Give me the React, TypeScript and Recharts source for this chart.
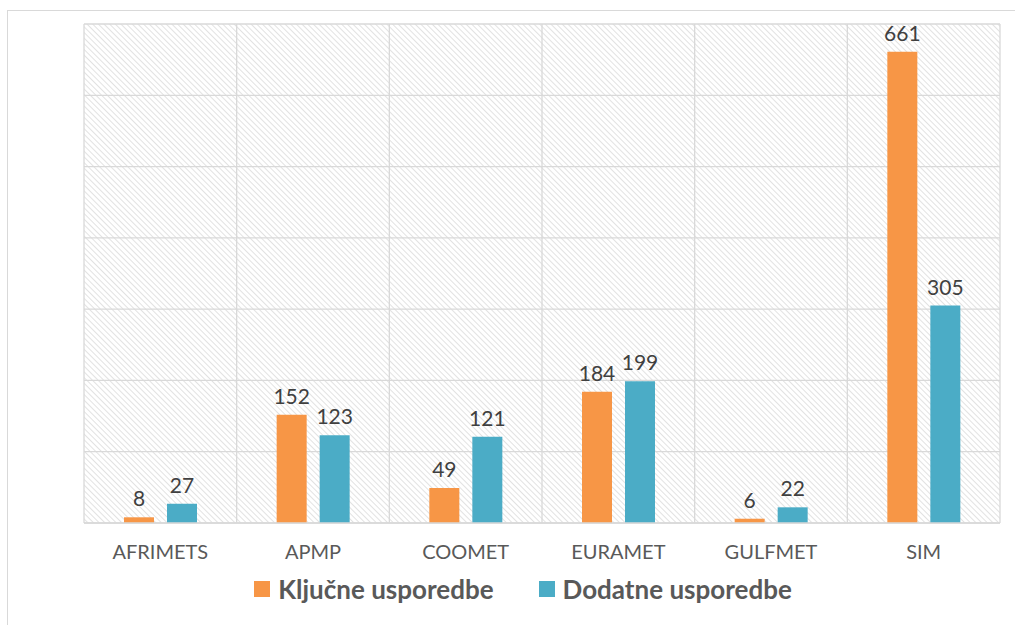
import React from 'react';
import { BarChart, Bar, XAxis, YAxis, CartesianGrid, Legend, LabelList } from 'recharts';

const regions = ['AFRIMETS', 'APMP', 'COOMET', 'EURAMET', 'GULFMET', 'SIM'];
const kljucne = [8, 152, 49, 184, 6, 661];
const dodatne = [27, 123, 121, 199, 22, 305];
const yTicks = [0, 100, 200, 300, 400, 500, 600, 700];

const seriesNames = { kljucne: 'Ključne usporedbe', dodatne: 'Dodatne usporedbe' };
const ORANGE = '#F79646';
const BLUE = '#4BACC6';
const FONT = 'Lato, "Open Sans", sans-serif';

const chartData = regions.map((name, i) => ({
  name,
  kljucne: kljucne[i],
  dodatne: dodatne[i],
}));

// vertical lines sit on category borders, not on centres
const boundaryLines = ({ offset }: any) => {
  const step = offset.width / regions.length;
  return regions.map((_, i) => offset.left + i * step).concat(offset.left + offset.width);
};

const LegendRow = () => (
  <div style={{ display: 'flex', justifyContent: 'center', alignItems: 'center', fontFamily: FONT }}>
    {[
      { label: seriesNames.kljucne, color: ORANGE },
      { label: seriesNames.dodatne, color: BLUE },
    ].map((item, i) => (
      <div key={item.label} style={{ display: 'flex', alignItems: 'center', marginLeft: i ? 45 : 0 }}>
        <span style={{ width: 16, height: 16, background: item.color, display: 'inline-block', marginRight: 8 }} />
        <span style={{ fontSize: 26, fontWeight: 700, color: '#595959' }}>{item.label}</span>
      </div>
    ))}
  </div>
);

export default function App() {
  return (
    <div style={{ position: 'absolute', left: 0, top: 0, width: 1015, height: 625, background: '#fff' }}>
      <div
        style={{
          position: 'absolute',
          left: 7,
          top: 10,
          right: 0,
          bottom: 0,
          borderLeft: '1px solid #d9d9d9',
          borderTop: '1px solid #d9d9d9',
        }}
      />
      <BarChart
        width={1015}
        height={625}
        data={chartData}
        margin={{ top: 24, right: 15, left: 84, bottom: 62 }}
        barGap={13}
        barSize={30}
        style={{ position: 'absolute', left: 0, top: 0 }}
      >
        <defs>
          <pattern id="hatch" width="4" height="4" patternUnits="userSpaceOnUse" patternTransform="rotate(-45)">
            <rect width="4" height="4" fill="#ffffff" />
            <line x1="0" y1="0" x2="0" y2="4" stroke="#d6d6d6" strokeWidth="1.4" />
          </pattern>
        </defs>
        <CartesianGrid
          fill="url(#hatch)"
          fillOpacity={1}
          stroke="#d9d9d9"
          strokeWidth={1.3}
          verticalCoordinatesGenerator={boundaryLines}
        />
        <XAxis
          dataKey="name"
          height={40}
          axisLine={{ stroke: '#d9d9d9', strokeWidth: 1.3 }}
          tickLine={false}
          tickMargin={16}
          tick={{ fill: '#595959', fontSize: 20, fontFamily: FONT }}
        />
        <YAxis hide domain={[0, 700]} ticks={yTicks} width={0} />
        <Legend
          verticalAlign="middle"
          wrapperStyle={{ left: 0, top: 573, width: 1046 }}
          content={() => <LegendRow />}
        />
        <Bar dataKey="kljucne" name={seriesNames.kljucne} fill={ORANGE} isAnimationActive={false}>
          <LabelList dataKey="kljucne" position="top" offset={11} fill="#404040" fontSize={21} fontFamily={FONT} />
        </Bar>
        <Bar dataKey="dodatne" name={seriesNames.dodatne} fill={BLUE} isAnimationActive={false}>
          <LabelList dataKey="dodatne" position="top" offset={11} fill="#404040" fontSize={21} fontFamily={FONT} />
        </Bar>
      </BarChart>
    </div>
  );
}
